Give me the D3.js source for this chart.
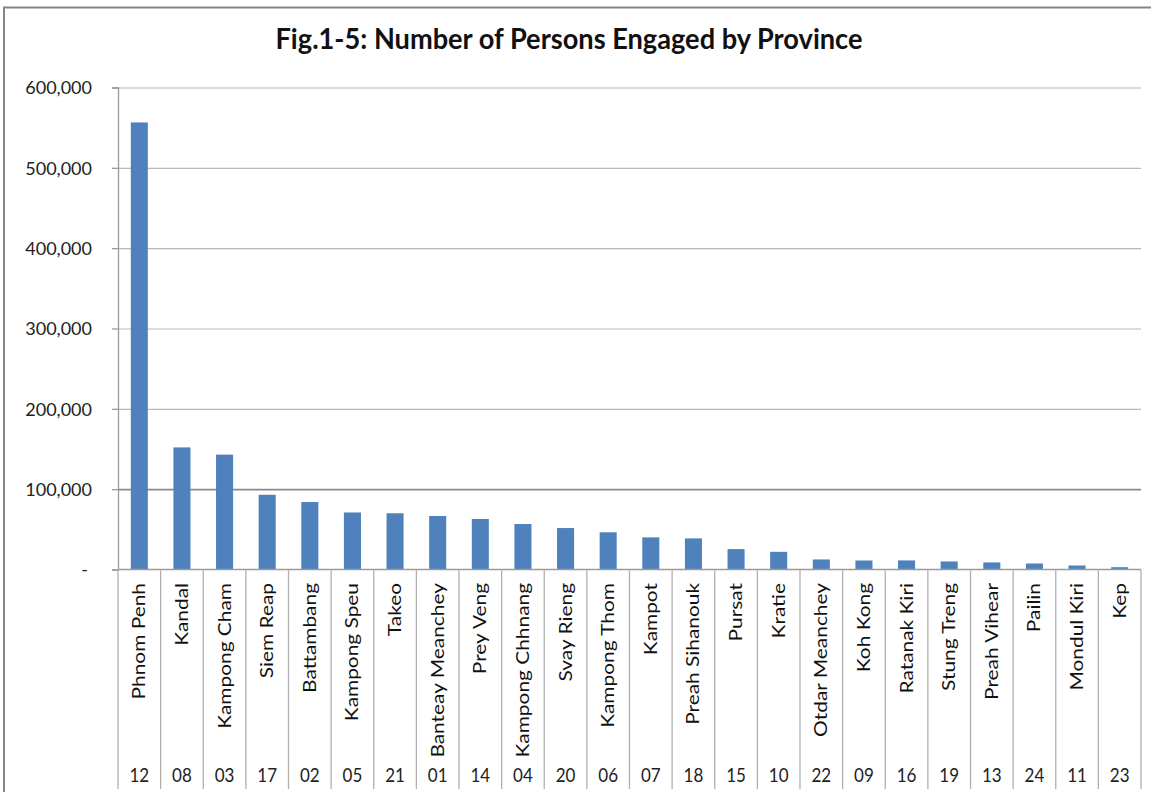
<!DOCTYPE html>
<html>
<head>
<meta charset="utf-8">
<script src="https://cdn.jsdelivr.net/npm/d3@7"></script>
<style>
  body { margin: 0; background: #fff; }
  svg { display: block; font-family: Lato, "Open Sans", sans-serif; }
</style>
</head>
<body>
<div id="container"></div>
<script>
// data
const provinces = ["Phnom Penh", "Kandal", "Kampong Cham", "Siem Reap", "Battambang", "Kampong Speu",
  "Takeo", "Banteay Meanchey", "Prey Veng", "Kampong Chhnang", "Svay Rieng", "Kampong Thom",
  "Kampot", "Preah Sihanouk", "Pursat", "Kratie", "Otdar Meanchey", "Koh Kong", "Ratanak Kiri",
  "Stung Treng", "Preah Vihear", "Pailin", "Mondul Kiri", "Kep"];
const codes = ["12", "08", "03", "17", "02", "05", "21", "01", "14", "04", "20", "06",
  "07", "18", "15", "10", "22", "09", "16", "19", "13", "24", "11", "23"];
const persons = [556500, 152000, 143000, 93000, 84000, 71000, 70000, 66600, 62900, 56600, 51600, 46300,
  40000, 38700, 25400, 22000, 12500, 11200, 11300, 10000, 8800, 7500, 5000, 2900];
const yTicks = [0, 100000, 200000, 300000, 400000, 500000, 600000];

const width = 1151, height = 792;
const plot = {left: 118, right: 1141, top: 87.5, bottom: 569.5};
const labelBottom = 789;
const sy = 1.16; // the original picture is a bit tall

const svg = d3.select("#container").append("svg")
  .attr("width", width)
  .attr("height", height);

// outer frame (cut off at right / bottom like the source)
svg.append("rect")
  .attr("x", 4).attr("y", 7.5)
  .attr("width", 1200).attr("height", 900)
  .attr("fill", "none")
  .attr("stroke", "#858585")
  .attr("stroke-width", 2);

// title
svg.append("text")
  .attr("transform", `translate(569,49) scale(1,1.08)`)
  .attr("text-anchor", "middle")
  .style("font-size", "27.2px")
  .style("font-weight", "bold")
  .attr("fill", "#111")
  .text("Fig.1-5: Number of Persons Engaged by Province");

// SCALES
const data = provinces.map((p, i) => ({name: p, code: codes[i], value: persons[i]}));

const x = d3.scaleBand()
  .domain(provinces)
  .range([plot.left, plot.right])
  .paddingInner(0.6)
  .paddingOuter(0.3);

const y = d3.scaleLinear()
  .domain([0, 600000])
  .range([plot.bottom, plot.top]);

// gridlines
svg.append("g")
  .attr("transform", `translate(${plot.left},0)`)
  .call(d3.axisLeft(y).tickValues(yTicks.slice(1)).tickSize(-(plot.right - plot.left)).tickFormat(""))
  .call(g => g.select(".domain").remove())
  .call(g => g.selectAll(".tick line")
    .attr("stroke", d => d === 100000 ? "#8a8a8a" : "#b8b8b8")
    .attr("stroke-width", d => d === 100000 ? 1.6 : 1.2));

// bars
svg.append("g")
  .selectAll("rect")
  .data(data)
  .join("rect")
    .attr("x", d => x(d.name))
    .attr("y", d => y(d.value))
    .attr("width", x.bandwidth())
    .attr("height", d => y(0) - y(d.value))
    .attr("fill", "#4f81bd");

// y axis
const yAxis = svg.append("g")
  .attr("transform", `translate(${plot.left},0)`)
  .call(d3.axisLeft(y)
    .tickValues(yTicks)
    .tickSize(6)
    .tickPadding(20)
    .tickFormat(d => d === 0 ? "-" : d3.format(",")(d)));
yAxis.select(".domain").attr("stroke", "#9a9a9a").attr("stroke-width", 1.3);
yAxis.selectAll(".tick line").attr("stroke", "#9a9a9a").attr("stroke-width", 1.3);
yAxis.selectAll(".tick text")
  .style("font-size", "18px")
  .style("font-family", "Lato, sans-serif")
  .attr("fill", "#222")
  .attr("dy", "0.36em");
yAxis.selectAll(".tick").filter(d => d === 0).select("text").attr("dx", -4);

// category axis: base line and separators
svg.append("line")
  .attr("x1", plot.left).attr("x2", plot.right)
  .attr("y1", y(0)).attr("y2", y(0))
  .attr("stroke", "#9a9a9a").attr("stroke-width", 1.3);

const step = x.step();
const edges = d3.range(provinces.length + 1).map(i => plot.left + i * step);
svg.append("g")
  .selectAll("line")
  .data(edges)
  .join("line")
    .attr("x1", d => d).attr("x2", d => d)
    .attr("y1", y(0)).attr("y2", labelBottom)
    .attr("stroke", "#b0b0b0")
    .attr("stroke-width", 1.3);

// province names (rotated)
svg.append("g")
  .selectAll("text")
  .data(data)
  .join("text")
    .attr("transform", d => `translate(${x(d.name) + x.bandwidth() / 2 + 6},583) scale(1,${sy}) rotate(-90)`)
    .attr("text-anchor", "end")
    .style("font-size", "18px")
    .attr("fill", "#111")
    .text(d => d.name);

// province codes
svg.append("g")
  .selectAll("text")
  .data(data)
  .join("text")
    .attr("transform", d => `translate(${x(d.name) + x.bandwidth() / 2},781.5) scale(1,${sy})`)
    .attr("text-anchor", "middle")
    .style("font-size", "17px")
    .attr("fill", "#222")
    .text(d => d.code);
</script>
</body>
</html>
